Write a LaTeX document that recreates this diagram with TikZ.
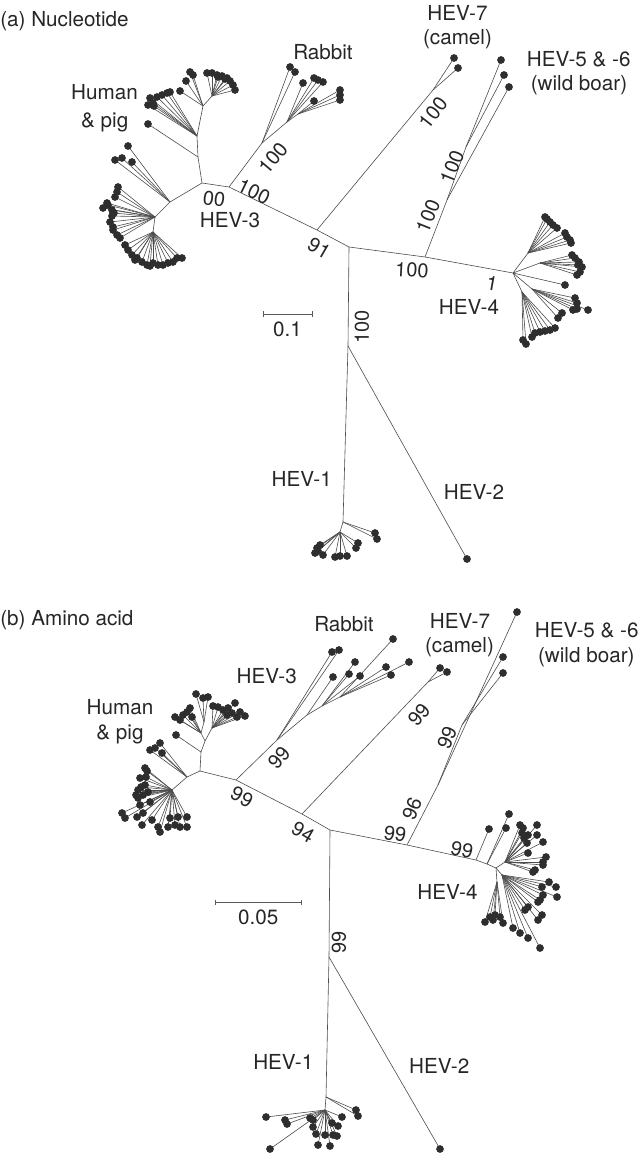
\documentclass[tikz,border=0pt]{standalone}
\usepackage{fontspec}
\setmainfont{TeX Gyre Heros}
\usetikzlibrary{backgrounds}
\tikzset{
 br/.style={line width=0.45pt, draw=black!70},
 dotc/.style={fill=black!82},
 lab/.style={font=\fontsize{15.5}{18}\selectfont, text=black!85, inner sep=0pt, anchor=base},
 num/.style={font=\fontsize{15}{18}\selectfont, text=black!85, inner sep=0pt},
 bar/.style={line width=0.6pt, draw=black!65},
}
\newcommand\fan[2]{\foreach \x/\y in {#2}{%
  \begin{pgfonlayer}{background}\draw[br] (#1) -- (\x,\y);\end{pgfonlayer}%
  \fill[dotc] (\x,\y) circle (2.9pt);}}
\begin{document}
\begin{tikzpicture}[x=0.75pt,y=-0.75pt]
\useasboundingbox (0,0) rectangle (642,1155);
% ================= (a) =================
\node[lab,anchor=base west] (ta) at (0,27) {(a) Nucleotide};
\coordinate (H1a) at (202,183);
\coordinate (R0a) at (229,187);
\coordinate (N7a) at (317,230);
\coordinate (Ca) at (349,247);
\coordinate (N56a) at (425,257);
\coordinate (H4a) at (513,273);
\coordinate (N2a) at (348,346);
\coordinate (E1a) at (343,522);
\coordinate (G1a) at (340,532);
\draw[br] (H1a) -- (R0a) -- (N7a) -- (Ca) -- (N56a) -- (H4a);
\draw[br] (Ca) -- (N2a) -- (E1a) -- (G1a);
% human & pig
\coordinate (A1) at (198,157);
\coordinate (A2) at (197,136);
\coordinate (A3) at (203,106);
\coordinate (A4) at (212,96);
\coordinate (B1) at (170,202);
\coordinate (B2) at (155,217);
\coordinate (B3) at (153,232);
\draw[br] (H1a) -- (A1) -- (A2) -- (A3) -- (A4);
\draw[br] (H1a) -- (B1) -- (B2) -- (B3);
\fan{A1}{148/124}
\fan{A2}{148/105,153/103,150/98,157/97,162/95,167/93,170/92,154/106}
\fan{A3}{190/72,193/75,186/81,180/91}
\fan{A4}{207/73,212/73,217/75,222/76,227/78,230/81,233/85,235/90,225/79,218/77}
\fan{B1}{128/146,115/160,122/158,132/162}
\fan{B2}{118/187,117/192,115/197,107/203,103/208,112/210,112/216,110/222,113/227,113/230,117/235,120/238,108/205,114/213}
\fan{B3}{125/245,128/250,132/255,137/258,142/262,147/265,153/263,158/265,163/265,168/263,173/262,177/258,182/258,135/260,150/266}
% rabbit
\coordinate (RB1) at (262,143);
\coordinate (RB2) at (287,122);
\coordinate (RB3) at (298,114);
\draw[br] (R0a) -- (RB1) -- (RB2) -- (RB3);
\fan{RB1}{290/67,295/72}
\fan{RB2}{303/83,314/78,318/80,323/82}
\fan{RB3}{340/90,340/95,340/100,314/101}
% HEV-7
\coordinate (K7a) at (433,90);
\draw[br] (N7a) -- (K7a);
\fan{K7a}{454/58,458/68}
% HEV-5&6
\coordinate (M1a) at (447,200);
\coordinate (M2a) at (466,147);
\draw[br] (N56a) -- (M1a) -- (M2a);
\fan{M1a}{509/87}
\fan{M2a}{501/60,504/75}
% HEV-4
\coordinate (U1) at (528,253);
\coordinate (U2) at (540,263);
\coordinate (L1) at (532,289);
\coordinate (L2) at (522,292);
\draw[br] (H4a) -- (U1); \draw[br] (H4a) -- (U2);
\draw[br] (H4a) -- (L1); \draw[br] (H4a) -- (L2);
\fan{U1}{545/217,547/219,550/222,553/225,557/228,565/233,567/237,570/240,571/243}
\fan{U2}{572/255,575/258,579/262,582/267,580/272,577/275,578/265}
\fan{H4a}{565/285}
\fan{L1}{575/298,577/303,573/310,577/309,588/310,562/313,558/318}
\fan{L2}{555/328,550/330,545/331,540/332,535/333,532/337,523/340,526/344}
% HEV-1, HEV-2
\fan{E1a}{375/533,377/539}
\fan{G1a}{358/543,356/548,320/545,317/548,315/553,323/555,335/557,340/556,347/556,318/551}
\fan{N2a}{467/559}
% scale bar (a)
\coordinate (SA1) at (263,314); \coordinate (SA2) at (312,314);
\draw[bar] (SA1) -- (SA2);
\draw[bar] ([yshift=2pt]SA1) -- ([yshift=-2pt]SA1);
\draw[bar] ([yshift=2pt]SA2) -- ([yshift=-2pt]SA2);
\node[lab] (s1) at (287.5,336.5) {0.1};
% labels (a)
\node[lab] (hum1) at (104.5,100) {Human};
\node[lab] (pig1) at (104.7,128) {\& pig};
\node[lab] (rab1) at (323,60) {Rabbit};
\node[lab] (h7a) at (457.5,20.5) {HEV-7};
\node[lab] (cam1) at (457.5,45) {(camel)};
\node[lab] (h56a) at (578.7,66.5) {HEV-5 \& -6};
\node[lab] (wb1) at (579,91) {(wild boar)};
\node[lab] (h3a) at (230,228) {HEV-3};
\node[lab] (h4a) at (469,315) {HEV-4};
\node[lab] (h1a) at (301.7,486.5) {HEV-1};
\node[lab] (h2a) at (474,499.3) {HEV-2};
% bootstrap (a)
\node[num,rotate=-8] (a00) at (214,199) {00};
\node[num,rotate=-26] (a1) at (254,192) {100};
\node[num,rotate=50] (a2) at (273,158) {100};
\node[num,rotate=-30] (a3) at (319,248) {91};
\node[num,rotate=52] (a4) at (433,113) {100};
\node[num,rotate=68] (a5) at (452,167) {100};
\node[num,rotate=68] (a6) at (428,216) {100};
\node[num,rotate=-3] (a7) at (412,270) {100};
\node[num,rotate=-10] (a8) at (492,283) {1};
\node[num,rotate=90] (a9) at (362,327) {100};
% ================= (b) =================
\node[lab,anchor=base west] (tb) at (0,625) {(b) Amino acid};
\coordinate (H1b) at (200,771);
\coordinate (R0b) at (236,780);
\coordinate (N7b) at (302,814);
\coordinate (Cb) at (330,830);
\coordinate (N56b) at (407,845);
\coordinate (J1) at (476,860);
\coordinate (J2) at (487,864);
\coordinate (H4b) at (496,868);
\coordinate (N2b) at (329,957);
\coordinate (E1b) at (326,1097);
\coordinate (G1b) at (325,1110);
\draw[br] (H1b) -- (R0b) -- (N7b) -- (Cb) -- (N56b) -- (J1) -- (J2) -- (H4b);
\draw[br] (Cb) -- (N2b) -- (E1b) -- (G1b);
% human & pig
\coordinate (P1) at (201,752);
\coordinate (P2) at (205,741);
\coordinate (P3) at (201,733);
\coordinate (P4) at (204,722);
\coordinate (P5) at (212,728);
\coordinate (Q1) at (187,777);
\coordinate (Q2) at (172,790);
\draw[br] (H1b) -- (P1) -- (P2) -- (P3) -- (P4);
\draw[br] (P2) -- (P5);
\draw[br] (H1b) -- (Q1) -- (Q2);
\fan{P1}{176/735}
\fan{P3}{175/717,180/720,183/715,187/712,192/717,190/708}
\fan{P4}{196/694,203/698,208/697}
\fan{P5}{213/706,218/707,223/710,228/708,235/703,240/712,245/716,237/717,227/715,232/713}
\fan{Q1}{150/750,160/743,162/753,155/748}
\fan{Q2}{145/768,146/777,141/787,143/795,138/798,140/778,145/785,138/790,148/792,140/805,150/802,122/813,125/818,137/817,143/813,142/825,152/820,158/827,160/832,168/827,175/825,180/827,187/827,187/817,178/817,170/818,147/771,136/795}
% rabbit
\coordinate (S1) at (277,740);
\coordinate (S2) at (307,715);
\coordinate (S3) at (322,706);
\coordinate (S4) at (340,697);
\draw[br] (R0b) -- (S1) -- (S2) -- (S3) -- (S4);
\fan{S1}{332/652,339/650}
\fan{S2}{333/677}
\fan{S3}{349/674,355/662,360/676}
\fan{S4}{393/639,386/667,391/675,409/662}
% HEV-7
\coordinate (K7b) at (428,682);
\draw[br] (N7b) -- (K7b);
\fan{K7b}{440/668,447/672}
% HEV-5&6
\coordinate (M1b) at (438,785);
\coordinate (M2b) at (462,725);
\draw[br] (N56b) -- (M1b) -- (M2b);
\fan{M1b}{517/612}
\fan{M2b}{503/657,503/673}
% HEV-4
\coordinate (V1) at (505,862);
\coordinate (V2) at (502,875);
\coordinate (V3) at (497,882);
\draw[br] (H4b) -- (V1); \draw[br] (H4b) -- (V2); \draw[br] (H4b) -- (V3);
\fan{J1}{489/829}
\fan{J2}{506/828,509/814}
\fan{V1}{520/825,523/828,522/833,528/835,537/825,537/835,543/842,527/843,528/853,546/857,543/862,543/865,535/870,533/872,524/838}
\fan{V2}{549/882,556/887,557/897,542/887,543/895,540/900,538/902,528/907,525/910,542/915,538/920,513/928,520/933,528/938,540/948}
\fan{V3}{485/922,490/917,495/915,500/917,503/923,493/920}
% HEV-1, HEV-2
\fan{E1b}{356/1110,358/1116}
\fan{G1b}{266/1117,270/1149,285/1120,287/1124,310/1118,313/1120,313/1127,316/1134,318/1145,330/1146,325/1135,333/1135,337/1136,332/1123,338/1126,342/1117}
\fan{N2b}{440/1149}
% scale bar (b)
\coordinate (SB1) at (215,902.7); \coordinate (SB2) at (301.7,902.7);
\draw[bar] (SB1) -- (SB2);
\draw[bar] ([yshift=2pt]SB1) -- ([yshift=-2pt]SB1);
\draw[bar] ([yshift=2pt]SB2) -- ([yshift=-2pt]SB2);
\node[lab] (s2) at (258.3,924.3) {0.05};
% labels (b)
\node[lab] (hum2) at (120,714) {Human};
\node[lab] (pig2) at (120,739.5) {\& pig};
\node[lab] (h3b) at (266.7,683) {HEV-3};
\node[lab] (rab2) at (344,631) {Rabbit};
\node[lab] (h7b) at (460,628) {HEV-7};
\node[lab] (cam2) at (459.5,652.5) {(camel)};
\node[lab] (h56b) at (586.7,637.3) {HEV-5 \& -6};
\node[lab] (wb2) at (586.3,662) {(wild boar)};
\node[lab] (h4b) at (447.5,899) {HEV-4};
\node[lab] (h1b) at (283.3,1069) {HEV-1};
\node[lab] (h2b) at (439.2,1073) {HEV-2};
% bootstrap (b)
\node[num,rotate=50] (b1) at (279,758) {99};
\node[num,rotate=-28] (b2) at (242,797) {99};
\node[num,rotate=-30] (b3) at (303,832) {94};
\node[num,rotate=50] (b4) at (419,715) {99};
\node[num,rotate=68] (b5) at (447,738) {99};
\node[num,rotate=68] (b6) at (412,809) {96};
\node[num,rotate=-8] (b7) at (395,834) {99};
\node[num,rotate=-12] (b8) at (462,850) {99};
\node[num,rotate=90] (b9) at (339,942) {99};
\end{tikzpicture}
\end{document}
